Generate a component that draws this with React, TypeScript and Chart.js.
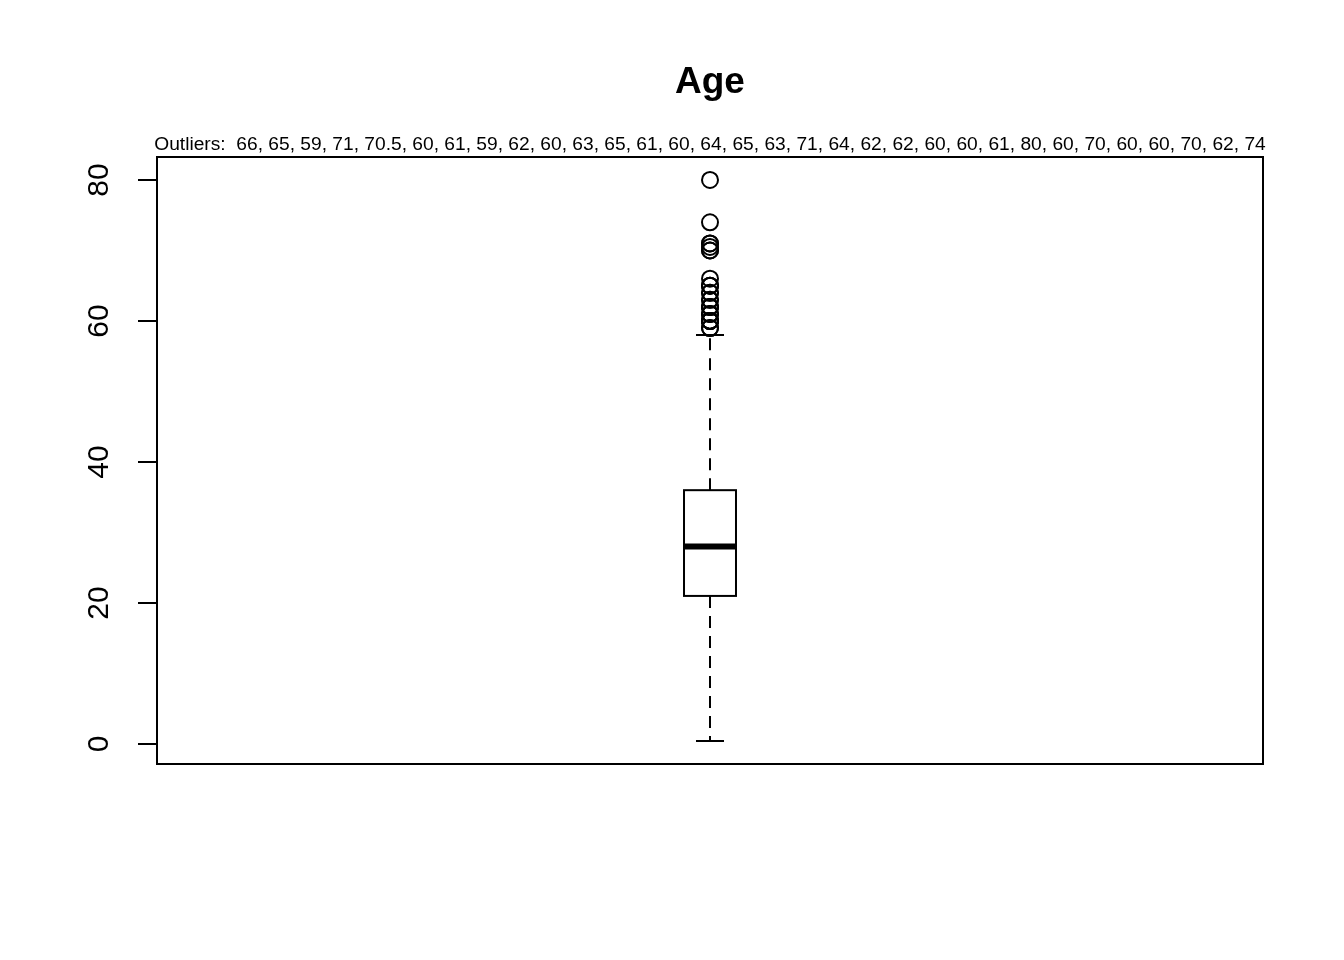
import React, { useEffect, useRef } from "react";
import { Chart, registerables } from "chart.js";

Chart.register(...registerables);

const title = "Age";
const outliers = [66, 65, 59, 71, 70.5, 60, 61, 59, 62, 60, 63, 65, 61, 60, 64, 65, 63, 71, 64, 62, 62, 60, 60, 61, 80, 60, 70, 60, 60, 70, 62, 74];
// lower whisker, Q1, median, Q3, upper whisker
const boxStats = [0.42, 21, 28, 36, 58];
const yTicks = [0, 20, 40, 60, 80];
const yMin = -2.84;
const yMax = 83.26;

const FONT = "'Liberation Sans', Arial, Helvetica, sans-serif";

const boxPlugin = {
  id: "rbox",
  beforeDatasetsDraw(chart: any) {
    const ctx = chart.ctx;
    const xs = chart.scales.x;
    const ys = chart.scales.y;
    const [lo, q1, med, q3, hi] = boxStats;
    const cx = xs.getPixelForValue(1);
    const bl = xs.getPixelForValue(1 - 0.0235);
    const br = xs.getPixelForValue(1 + 0.0235);
    const cl = xs.getPixelForValue(1 - 0.01266);
    const cr = xs.getPixelForValue(1 + 0.01266);
    ctx.save();
    ctx.strokeStyle = "#000";
    ctx.lineWidth = 2;
    // whiskers dashed
    ctx.setLineDash([12, 8]);
    ctx.beginPath();
    ctx.moveTo(cx, ys.getPixelForValue(q3));
    ctx.lineTo(cx, ys.getPixelForValue(hi));
    ctx.moveTo(cx, ys.getPixelForValue(q1));
    ctx.lineTo(cx, ys.getPixelForValue(lo));
    ctx.stroke();
    ctx.setLineDash([]);
    // caps
    ctx.beginPath();
    ctx.moveTo(cl, ys.getPixelForValue(hi));
    ctx.lineTo(cr, ys.getPixelForValue(hi));
    ctx.moveTo(cl, ys.getPixelForValue(lo));
    ctx.lineTo(cr, ys.getPixelForValue(lo));
    ctx.stroke();
    // box
    const yt = ys.getPixelForValue(q3);
    const yb = ys.getPixelForValue(q1);
    ctx.fillStyle = "#fff";
    ctx.fillRect(bl, yt, br - bl, yb - yt);
    ctx.strokeRect(bl, yt, br - bl, yb - yt);
    // median
    ctx.lineWidth = 6;
    ctx.beginPath();
    ctx.moveTo(bl, ys.getPixelForValue(med));
    ctx.lineTo(br, ys.getPixelForValue(med));
    ctx.stroke();
    ctx.restore();
  },
  afterDraw(chart: any) {
    const ctx = chart.ctx;
    const a = chart.chartArea;
    const ys = chart.scales.y;
    ctx.save();
    ctx.strokeStyle = "#000";
    ctx.fillStyle = "#000";
    ctx.lineWidth = 2;
    // frame
    ctx.strokeRect(a.left, a.top, a.right - a.left, a.bottom - a.top);
    // y axis
    ctx.beginPath();
    ctx.moveTo(a.left, ys.getPixelForValue(yTicks[0]));
    ctx.lineTo(a.left, ys.getPixelForValue(yTicks[yTicks.length - 1]));
    for (const t of yTicks) {
      const y = ys.getPixelForValue(t);
      ctx.moveTo(a.left - 19, y);
      ctx.lineTo(a.left, y);
    }
    ctx.stroke();
    ctx.font = `30px ${FONT}`;
    ctx.textAlign = "center";
    ctx.textBaseline = "middle";
    for (const t of yTicks) {
      const y = ys.getPixelForValue(t);
      ctx.save();
      ctx.translate(100, y);
      ctx.rotate(-Math.PI / 2);
      ctx.fillText(String(t), 0, 0);
      ctx.restore();
    }
    const mid = (a.left + a.right) / 2;
    // title
    ctx.textBaseline = "alphabetic";
    ctx.font = `bold 37px ${FONT}`;
    ctx.fillText(title, mid, 93);
    // subtitle
    ctx.font = `19.2px ${FONT}`;
    ctx.fillText("Outliers:  " + outliers.join(", "), mid, 150);
    ctx.restore();
  },
};

export default function App() {
  const ref = useRef<HTMLCanvasElement>(null);
  useEffect(() => {
    if (!ref.current) return;
    const chart = new Chart(ref.current, {
      type: "scatter",
      data: {
        datasets: [
          {
            label: "Outliers",
            data: outliers.map((v) => ({ x: 1, y: v })),
            pointStyle: "circle",
            pointRadius: 8,
            pointBorderWidth: 2,
            pointBorderColor: "#000",
            pointBackgroundColor: "rgba(0,0,0,0)",
          },
        ],
      },
      options: {
        responsive: false,
        animation: false,
        devicePixelRatio: 1,
        layout: { padding: { left: 157, right: 81, top: 157, bottom: 196 } },
        plugins: { legend: { display: false }, tooltip: { enabled: false }, title: { display: false } },
        scales: {
          x: { type: "linear", min: 0.5, max: 1.5, display: false },
          y: { type: "linear", min: yMin, max: yMax, display: false },
        },
      },
      plugins: [boxPlugin],
    });
    return () => chart.destroy();
  }, []);
  return (
    <div style={{ position: "absolute", left: 0, top: 0, width: 1344, height: 960, background: "#fff" }}>
      <canvas ref={ref} width={1344} height={960} />
    </div>
  );
}
